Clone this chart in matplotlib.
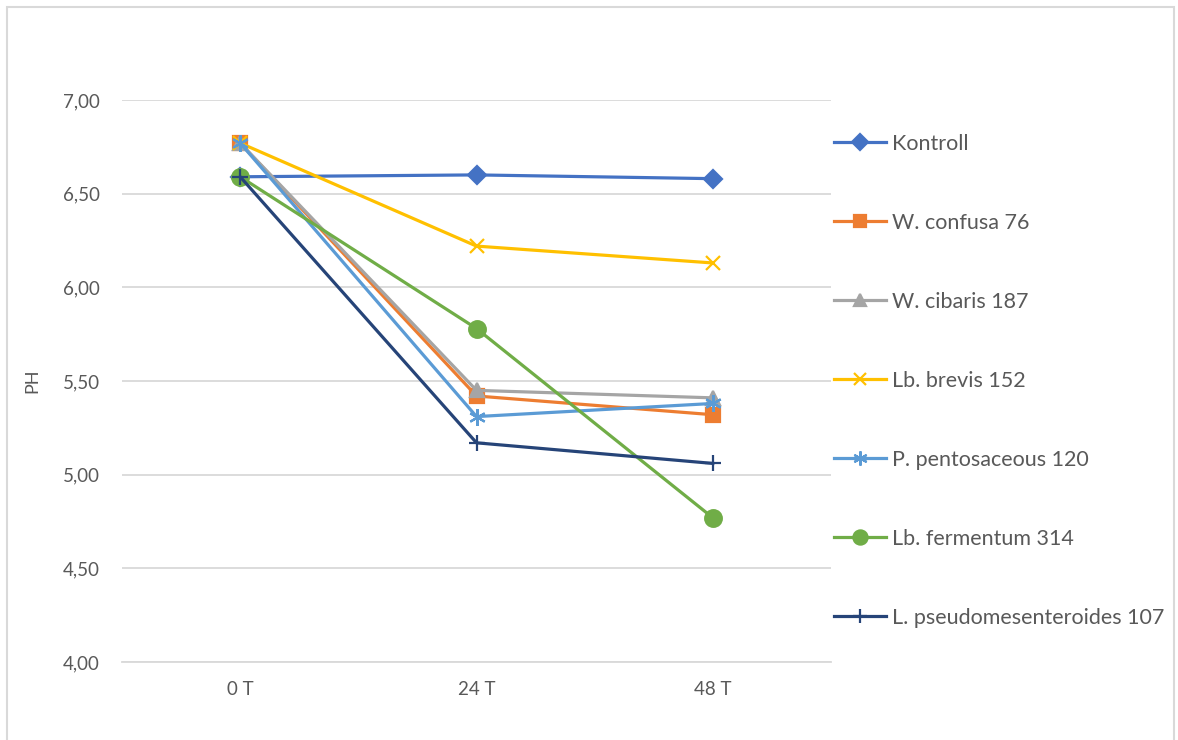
"""pH over fermentation time for the LAB strains vs. control."""

import matplotlib

matplotlib.use("Agg")
import matplotlib.pyplot as plt
from matplotlib.patches import Rectangle

plt.rcParams["font.family"] = ["Lato", "DejaVu Sans"]

# sampling times
times = ["0 T", "24 T", "48 T"]

kontroll = [6.59, 6.60, 6.58]
w_confusa_76 = [6.77, 5.42, 5.32]
w_cibaris_187 = [6.77, 5.45, 5.41]
lb_brevis_152 = [6.77, 6.22, 6.13]
p_pentosaceous_120 = [6.77, 5.31, 5.38]
lb_fermentum_314 = [6.59, 5.78, 4.77]
l_pseudomesenteroides_107 = [6.59, 5.17, 5.06]

GRID = "#d9d9d9"
TEXT = "#595959"

series = [
    ("Kontroll", kontroll, "#4472C4", "D", 9),
    ("W. confusa 76", w_confusa_76, "#ED7D31", "s", 10),
    ("W. cibaris 187", w_cibaris_187, "#A5A5A5", "^", 10),
    ("Lb. brevis 152", lb_brevis_152, "#FFC000", "x", 10),
    ("P. pentosaceous 120", p_pentosaceous_120, "#5B9BD5", (6, 2, 0), 12),
    ("Lb. fermentum 314", lb_fermentum_314, "#70AD47", "o", 12),
    ("L. pseudomesenteroides 107", l_pseudomesenteroides_107, "#264478", "+", 12),
]

fig = plt.figure(figsize=(11.78, 7.4), dpi=100)
ax = fig.add_axes([0.1036, 0.1054, 0.6018, 0.7595])

x = list(range(len(times)))
for label, vals, color, marker, ms in series:
    ax.plot(x, vals, color=color, lw=2.3, marker=marker, ms=ms,
            mec=color, mfc=color, mew=1.6, label=label)

ax.set_xlim(-0.5, len(times) - 0.5)
ax.set_ylim(4.0, 7.0)
ax.set_yticks([4.0, 4.5, 5.0, 5.5, 6.0, 6.5, 7.0])
ax.set_yticklabels([f"{v:.2f}".replace(".", ",") for v in ax.get_yticks()])
ax.set_xticks(x)
ax.set_xticklabels(times)
ax.tick_params(length=0, labelsize=13.5, colors=TEXT, pad=14)
ax.tick_params(axis="y", pad=16)
ax.grid(axis="y", color=GRID, lw=1.3)
ax.set_axisbelow(True)
for side in ("top", "left", "right"):
    ax.spines[side].set_visible(False)
ax.spines["bottom"].set_color(GRID)
ax.spines["bottom"].set_linewidth(1.3)
ax.set_ylabel("PH", fontsize=13, color=TEXT)
ax.yaxis.set_label_coords(-0.115, 0.5)

ax.legend(loc="upper left", bbox_to_anchor=(0.992, 0.9555), frameon=False,
          fontsize=15.5, labelcolor=TEXT, labelspacing=2.74, markerscale=0.85,
          handlelength=2.42, handletextpad=0.28, borderaxespad=0.0)

# chart frame, open at the bottom
fig.patches.append(Rectangle((7 / 1178, -0.05), 1167 / 1178, 1.05 - 7 / 740,
                             transform=fig.transFigure, fill=False,
                             edgecolor=GRID, lw=1.5))

fig.savefig("out.png", dpi=100)
